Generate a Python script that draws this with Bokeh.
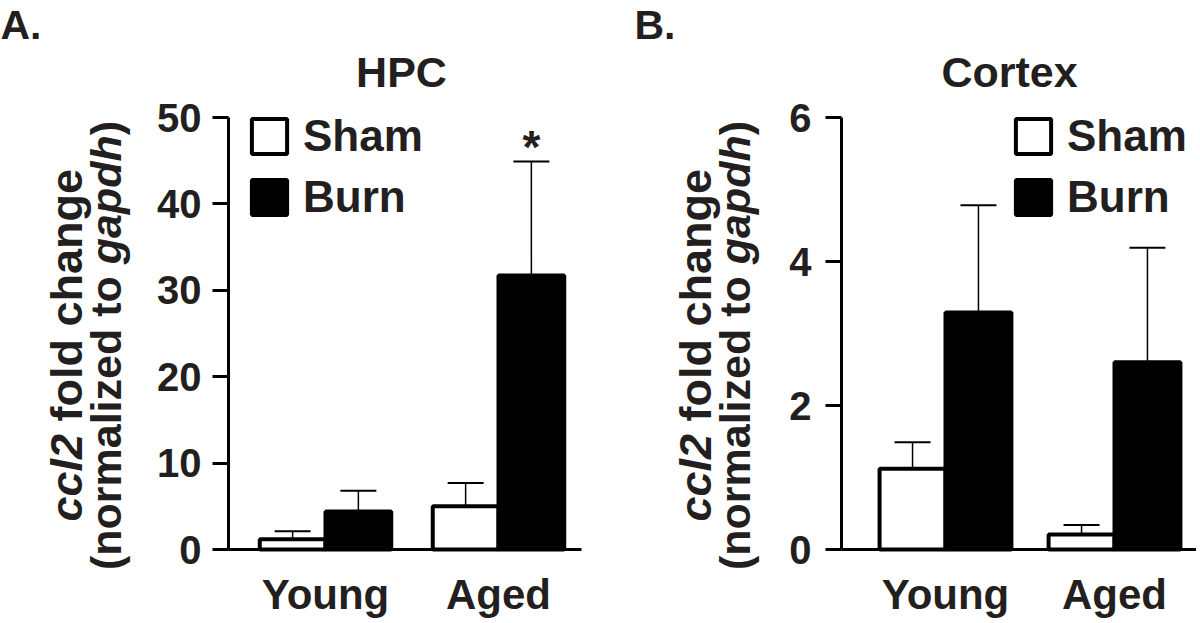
import numpy as np
from bokeh.plotting import figure
from bokeh.models import (ColumnDataSource, FixedTicker, Label, Legend, LegendItem,
                          Whisker, TeeHead, Range1d, LinearAxis)
from bokeh.embed import file_html
from bokeh.resources import INLINE

# ---------------- data ----------------
groups = ["Young", "Aged"]
series = ["Sham", "Burn"]

# Panel A: HPC
hpc_sham = [1.2, 5.0]
hpc_sham_err = [0.9, 2.7]
hpc_burn = [4.4, 31.7]
hpc_burn_err = [2.4, 13.2]
hpc_burn_sig = ["", "*"]
hpc_ticks = [0, 10, 20, 30, 40, 50]

# Panel B: Cortex
ctx_sham = [1.12, 0.21]
ctx_sham_err = [0.37, 0.13]
ctx_burn = [3.29, 2.60]
ctx_burn_err = [1.49, 1.59]
ctx_burn_sig = ["", ""]
ctx_ticks = [0, 2, 4, 6]

FONT = "Liberation Sans"
TXT = "#231f20"
FS = 42
W, H = 1196, 620
SHIFT = 16  # rendered text sits this many px below its nominal baseline

# ---------------- layout geometry (pixels) ----------------
Y0_PX = 549      # pixel row of value 0 in both panels
YTOP_PX = 117    # pixel row of the top tick in both panels
# panel A
A_PPU, A_C1, A_AX, A_END = 173.0, 325.0, 228.0, 581.0
# panel B
B_PPU, B_C1, B_AX, B_END = 169.0, 945.0, 841.0, 1196.0


def xr_for(ppu, c1):
    s = 1 - c1 / ppu
    return s, s + W / ppu


def yr_for(ymax):
    ppu = (Y0_PX - YTOP_PX) / ymax
    return -(H - Y0_PX) / ppu, Y0_PX / ppu


xa = xr_for(A_PPU, A_C1)
xb = xr_for(B_PPU, B_C1)
ya = yr_for(50)
yb = yr_for(6)

p = figure(width=W, height=H, output_backend="svg", toolbar_location=None,
           x_range=Range1d(*xa), y_range=Range1d(*ya),
           x_axis_location=None, y_axis_location=None,
           min_border_left=0, min_border_right=0, min_border_top=0, min_border_bottom=0)
p.extra_x_ranges = {"b": Range1d(*xb)}
p.extra_y_ranges = {"b": Range1d(*yb)}
p.outline_line_color = None
p.grid.visible = False
p.background_fill_color = "white"


def px2x(px):
    return xa[0] + px / A_PPU


def py2y(py):
    return ya[1] - py * (ya[1] - ya[0]) / H


def text(px, py, s, size=FS, style="bold", angle=0.0, align="left"):
    if angle == 0.0:
        py = py - SHIFT
    else:
        px = px - SHIFT
    p.add_layout(Label(x=px2x(px), y=py2y(py), text=s, angle=angle, text_align=align,
                       text_baseline="alphabetic", text_font=FONT,
                       text_font_size=f"{size}px", text_font_style=style,
                       text_color=TXT))


def panel(rng, ppu, c1, axpx, endpx, sham, sham_err, burn, burn_err, sig, ticks,
          ymax, bar_w, legend_px, tick_standoff):
    kw = {} if rng is None else dict(x_range_name=rng, y_range_name=rng)
    x = np.arange(len(groups)) + 1.0
    src_s = ColumnDataSource(dict(x=x - bar_w / 2, top=sham,
                                  upper=np.array(sham) + np.array(sham_err)))
    src_b = ColumnDataSource(dict(x=x + bar_w / 2, top=burn,
                                  upper=np.array(burn) + np.array(burn_err)))
    r_s = p.vbar(x="x", top="top", width=bar_w, source=src_s, fill_color="white",
                 line_color="black", line_width=4, **kw)
    r_b = p.vbar(x="x", top="top", width=bar_w, source=src_b, fill_color="black",
                 line_color="black", line_width=4, **kw)
    for src in (src_s, src_b):
        p.add_layout(Whisker(source=src, base="x", lower="top", upper="upper",
                             lower_head=None,
                             upper_head=TeeHead(size=36, line_width=2, line_color="black"),
                             line_width=1.5, line_color="black", level="annotation", **kw))
    ppu_y = (Y0_PX - YTOP_PX) / ymax
    for xi, yi, ei, s in zip(x + bar_w / 2, burn, burn_err, sig):
        if s:
            p.add_layout(Label(x=xi, y=yi + ei + 15 / ppu_y, text=s, text_align="center",
                               text_baseline="alphabetic", text_font=FONT,
                               text_font_size="46px", text_font_style="bold",
                               text_color=TXT, **kw))

    x_ax = 1 - (c1 - axpx) / ppu
    x_end = 1 + (endpx - c1) / ppu

    yax = LinearAxis(fixed_location=x_ax, bounds=(0, ymax), ticker=FixedTicker(ticks=ticks),
                     major_tick_out=16, major_tick_in=0, major_tick_line_width=3,
                     minor_tick_line_color=None, axis_line_width=3,
                     major_label_standoff=tick_standoff, major_label_text_font=FONT,
                     major_label_text_font_size="40px", major_label_text_font_style="bold",
                     major_label_text_color=TXT, **kw)
    p.add_layout(yax, "left")

    overrides = {float(v): g for v, g in zip(x, groups)}
    overrides.update({int(v): g for v, g in zip(x, groups)})
    xax = LinearAxis(fixed_location=0, bounds=(x_ax, x_end), ticker=FixedTicker(ticks=list(x)),
                     major_label_overrides=overrides, major_tick_out=0, major_tick_in=0,
                     minor_tick_line_color=None, axis_line_width=3,
                     major_label_standoff=21, major_label_text_font=FONT,
                     major_label_text_font_size="42px", major_label_text_font_style="bold",
                     major_label_text_color=TXT, **kw)
    p.add_layout(xax, "below")

    leg = Legend(items=[LegendItem(label=series[0], renderers=[r_s]),
                        LegendItem(label=series[1], renderers=[r_b])],
                 location=(legend_px, 398), glyph_width=44, glyph_height=44,
                 label_height=44, spacing=11, padding=0, margin=0, label_standoff=12,
                 border_line_color=None, background_fill_alpha=0,
                 label_text_font=FONT, label_text_font_size="44px",
                 label_text_font_style="bold", label_text_color=TXT)
    p.add_layout(leg)


panel(None, A_PPU, A_C1, A_AX, A_END, hpc_sham, hpc_sham_err, hpc_burn, hpc_burn_err,
      hpc_burn_sig, hpc_ticks, 50, 0.38, 247, 11)
panel("b", B_PPU, B_C1, B_AX, B_END, ctx_sham, ctx_sham_err, ctx_burn, ctx_burn_err,
      ctx_burn_sig, ctx_ticks, 6, 0.39, 1011, 14)

# titles and panel letters
text(401, 87, "HPC", 43, align="center")
text(1009, 87, "Cortex", 43, align="center")
text(0, 40, "A.", 41)
text(634, 40, "B.", 41)


def ylabel(base1, base2, cy=345, ys1=45, ys2=43):
    w1 = (1.946 + 0.278 + 5.602) * ys1
    s1 = cy + w1 / 2
    text(base1, s1, "ccl2", ys1, "bold italic", np.pi / 2)
    text(base1, s1 - (1.946 + 0.278) * ys1, "fold change", ys1, "bold", np.pi / 2)
    w2 = 10.445 * ys2
    s2 = cy + w2 / 2
    text(base2, s2, "(normalized to", ys2, "bold", np.pi / 2)
    text(base2, s2 - 7.112 * ys2, "gapdh", ys2, "bold italic", np.pi / 2)
    text(base2, s2 - 10.112 * ys2, ")", ys2, "bold", np.pi / 2)


ylabel(82, 121)
ylabel(711, 750)

open("out.html", "w").write(file_html(p, INLINE))
